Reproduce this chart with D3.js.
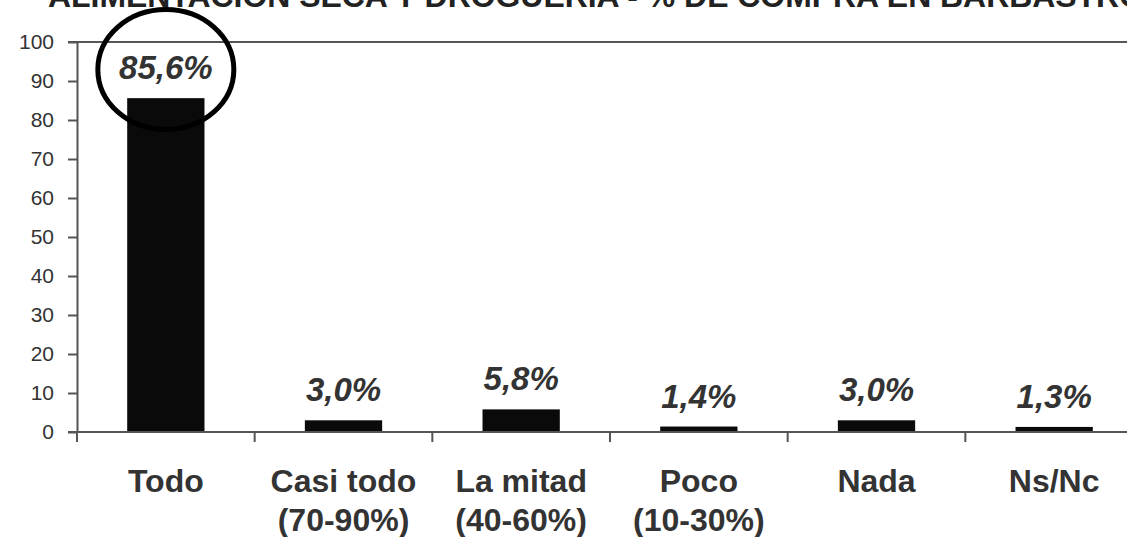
<script src="https://d3js.org/d3.v7.min.js"></script>
<style>
  body { margin: 0; background: #fff; }
  svg { display: block; font-family: Arial, "Liberation Sans", sans-serif; }
</style>
<svg id="vis"></svg>
<script>
  var title = 'ALIMENTACION SECA Y DROGUERIA - % DE COMPRA EN BARBASTRO';
  var categories = ['Todo', 'Casi todo', 'La mitad', 'Poco', 'Nada', 'Ns/Nc'];
  var subLabels = ['', '(70-90%)', '(40-60%)', '(10-30%)', '', ''];
  var values = [85.6, 3.0, 5.8, 1.4, 3.0, 1.3];
  var valueLabels = ['85,6%', '3,0%', '5,8%', '1,4%', '3,0%', '1,3%'];
  var yTicks = [0, 10, 20, 30, 40, 50, 60, 70, 80, 90, 100];

  var width = 1127;
  var height = 537;

  var svg = d3.select('#vis')
      .attr('width', width)
      .attr('height', height);

  var x = d3.scaleBand()
      .domain(categories)
      .range([77, 1143]);

  var y = d3.scaleLinear()
      .domain([0, 100])
      .range([432, 42]);

  var barW = x.bandwidth() * 0.435;

  // title (cut at the top edge, as in the original)
  svg.append('text')
      .attr('x', 48)
      .attr('y', 7)
      .attr('font-size', 31)
      .attr('font-weight', 'bold')
      .attr('fill', '#222')
      .attr('textLength', 1096)
      .attr('lengthAdjust', 'spacingAndGlyphs')
      .text(title);

  // top line at 100
  svg.append('line')
      .attr('x1', 68).attr('x2', width)
      .attr('y1', y(100)).attr('y2', y(100))
      .attr('stroke', '#555').attr('stroke-width', 2);

  // y axis
  var yAxis = svg.append('g')
      .attr('transform', 'translate(77,0)')
      .call(d3.axisLeft(y).tickValues(yTicks).tickSize(9).tickSizeOuter(0).tickPadding(14));
  yAxis.select('.domain').attr('stroke', '#555').attr('stroke-width', 2);
  yAxis.selectAll('.tick line').attr('stroke', '#555').attr('stroke-width', 2);
  yAxis.selectAll('.tick text')
      .attr('font-size', 21)
      .attr('font-family', 'Arial, "Liberation Sans", sans-serif')
      .attr('fill', '#333');

  // bars
  svg.selectAll('rect.bar')
      .data(values)
      .enter().append('rect')
      .attr('class', 'bar')
      .attr('x', function(d, i) { return x(categories[i]) + x.bandwidth() / 2 - barW / 2; })
      .attr('y', function(d) { return y(d); })
      .attr('width', barW)
      .attr('height', function(d) { return y(0) - y(d); })
      .attr('fill', '#0a0a0a');

  // x axis baseline and ticks
  svg.append('line')
      .attr('x1', 68).attr('x2', width)
      .attr('y1', y(0)).attr('y2', y(0))
      .attr('stroke', '#555').attr('stroke-width', 2);

  svg.selectAll('line.xtick')
      .data(categories)
      .enter().append('line')
      .attr('class', 'xtick')
      .attr('x1', function(d) { return x(d); })
      .attr('x2', function(d) { return x(d); })
      .attr('y1', y(0))
      .attr('y2', y(0) + 10)
      .attr('stroke', '#555').attr('stroke-width', 2);

  // value labels
  svg.selectAll('text.val')
      .data(values)
      .enter().append('text')
      .attr('class', 'val')
      .attr('x', function(d, i) { return x(categories[i]) + x.bandwidth() / 2; })
      .attr('y', function(d) { return y(d) - 19; })
      .attr('text-anchor', 'middle')
      .attr('font-size', 33)
      .attr('font-weight', 'bold')
      .attr('font-style', 'italic')
      .attr('fill', '#333')
      .text(function(d, i) { return valueLabels[i]; });

  // category labels
  var cat = svg.selectAll('text.cat')
      .data(categories)
      .enter().append('text')
      .attr('class', 'cat')
      .attr('text-anchor', 'middle')
      .attr('font-size', 32)
      .attr('font-weight', 'bold')
      .attr('fill', '#333');
  cat.append('tspan')
      .attr('x', function(d) { return x(d) + x.bandwidth() / 2; })
      .attr('y', 492)
      .text(function(d) { return d; });
  cat.append('tspan')
      .attr('x', function(d) { return x(d) + x.bandwidth() / 2; })
      .attr('y', 531)
      .text(function(d, i) { return subLabels[i]; });

  // highlight ellipse around the first bar label
  svg.append('ellipse')
      .attr('cx', x(categories[0]) + x.bandwidth() / 2)
      .attr('cy', 69.5)
      .attr('rx', 68)
      .attr('ry', 60)
      .attr('fill', 'none')
      .attr('stroke', '#000')
      .attr('stroke-width', 5);
</script>
